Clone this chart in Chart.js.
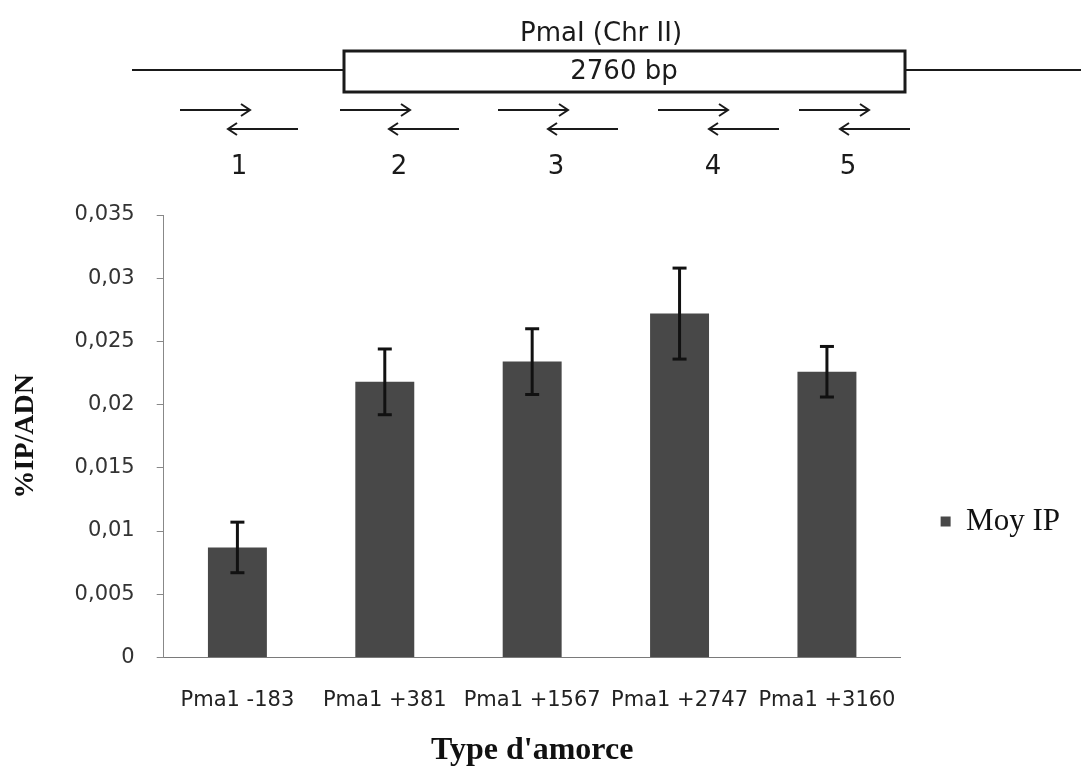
<!DOCTYPE html>
<html>
<head>
<meta charset="utf-8">
<title>Moy IP - Pma1</title>
<script src="https://cdn.jsdelivr.net/npm/chart.js@4.4.1/dist/chart.umd.min.js"></script>
<style>
  html, body { margin: 0; padding: 0; background: #fff; }
  canvas { display: block; }
</style>
</head>
<body>
<canvas id="ip-chart" width="1081" height="771"></canvas>
<script>
// primers along PmaI and the mean IP/input ratio measured with each
var amorces = ["Pma1 -183", "Pma1 +381", "Pma1 +1567", "Pma1 +2747", "Pma1 +3160"];
var moyIP = [0.0087, 0.0218, 0.0234, 0.0272, 0.0226];
var erreurIP = [0.0020, 0.0026, 0.0026, 0.0036, 0.0020];
var primerNumbers = ["1", "2", "3", "4", "5"];

// gene map drawn above the plot (pixel layout of the sketch)
var map = {
  lineY: 70,
  lineLeft: [132, 343],
  lineRight: [906, 1081],
  box: { x: 344, y: 51, w: 561, h: 41 },
  fwdStart: [180, 340, 498, 658, 799],
  revStart: [228, 389, 548, 709, 840],
  arrowLen: 70,
  fwdY: 110,
  revY: 129,
  numX: [239, 399, 556, 713, 848],
  numY: 167
};

function seg(ctx, x1, y1, x2, y2) {
  ctx.beginPath();
  ctx.moveTo(x1, y1);
  ctx.lineTo(x2, y2);
  ctx.stroke();
}

function arrow(ctx, x1, x2, y) {
  var dir = x2 > x1 ? 1 : -1;
  seg(ctx, x1, y, x2, y);
  ctx.beginPath();
  ctx.moveTo(x2 - dir * 9, y - 6);
  ctx.lineTo(x2, y);
  ctx.lineTo(x2 - dir * 9, y + 6);
  ctx.stroke();
}

var geneMap = {
  id: 'geneMap',
  afterDraw: function(chart) {
    var ctx = chart.ctx;
    ctx.save();
    ctx.strokeStyle = '#1a1a1a';
    ctx.fillStyle = '#1a1a1a';
    ctx.lineWidth = 2;
    seg(ctx, map.lineLeft[0], map.lineY, map.lineLeft[1], map.lineY);
    seg(ctx, map.lineRight[0], map.lineY, map.lineRight[1], map.lineY);
    ctx.lineWidth = 3;
    ctx.strokeRect(map.box.x, map.box.y, map.box.w, map.box.h);

    ctx.textAlign = 'center';
    ctx.textBaseline = 'middle';
    ctx.font = '26px "DejaVu Sans"';
    ctx.fillText('PmaI (Chr II)', 601, 34);
    ctx.fillText('2760 bp', 624, 72);

    ctx.lineWidth = 2;
    for (var i = 0; i < primerNumbers.length; i++) {
      arrow(ctx, map.fwdStart[i], map.fwdStart[i] + map.arrowLen, map.fwdY);
      arrow(ctx, map.revStart[i] + map.arrowLen, map.revStart[i], map.revY);
      ctx.fillText(primerNumbers[i], map.numX[i], map.numY);
    }
    ctx.restore();
  }
};

var errorBars = {
  id: 'errorBars',
  afterDatasetsDraw: function(chart) {
    var ctx = chart.ctx;
    var y = chart.scales.y;
    var bars = chart.getDatasetMeta(0).data;
    ctx.save();
    ctx.strokeStyle = '#111';
    ctx.lineWidth = 3;
    bars.forEach(function(bar, i) {
      var top = y.getPixelForValue(moyIP[i] + erreurIP[i]);
      var bottom = y.getPixelForValue(moyIP[i] - erreurIP[i]);
      seg(ctx, bar.x, top, bar.x, bottom);
      seg(ctx, bar.x - 7, top, bar.x + 7, top);
      seg(ctx, bar.x - 7, bottom, bar.x + 7, bottom);
    });
    ctx.restore();
  }
};

// push the legend down next to the lower half of the bars
var legendShift = {
  id: 'legendShift',
  afterLayout: function(chart) {
    chart.legend.top += 29;
    chart.legend.bottom += 29;
  }
};

new Chart(document.getElementById('ip-chart'), {
  type: 'bar',
  data: {
    labels: amorces,
    datasets: [{
      label: 'Moy IP',
      data: moyIP,
      backgroundColor: '#484848',
      borderWidth: 0,
      barPercentage: 0.4,
      categoryPercentage: 1.0
    }]
  },
  options: {
    responsive: false,
    animation: false,
    layout: { padding: { top: 215, left: 9, right: 11, bottom: 1 } },
    plugins: {
      legend: {
        position: 'right',
        align: 'center',
        labels: {
          boxWidth: 10,
          boxHeight: 10,
          padding: 40,
          color: '#111',
          font: { family: 'Liberation Serif', size: 31 }
        }
      },
      tooltip: { enabled: false }
    },
    scales: {
      x: {
        grid: { display: false },
        border: { color: '#7a7a7a' },
        ticks: {
          color: '#222',
          font: { family: 'DejaVu Sans', size: 21 },
          padding: 23,
          maxRotation: 0,
          autoSkip: false
        },
        title: {
          display: true,
          text: "Type d'amorce",
          color: '#111',
          font: { family: 'Liberation Serif', size: 32, weight: 'bold' },
          padding: { top: -5, bottom: 0 }
        }
      },
      y: {
        min: 0,
        max: 0.035,
        grid: { drawOnChartArea: false, tickLength: 7, color: '#888' },
        border: { color: '#888' },
        ticks: {
          stepSize: 0.005,
          color: '#333',
          padding: 22,
          font: { family: 'DejaVu Sans', size: 21 },
          callback: function(v) {
            return v.toLocaleString('fr-FR', { maximumFractionDigits: 3 });
          }
        },
        title: {
          display: true,
          text: '%IP/ADN',
          color: '#111',
          font: { family: 'Liberation Serif', size: 28, weight: 'bold' },
          padding: { top: 0, bottom: 10 }
        }
      }
    }
  },
  plugins: [errorBars, geneMap, legendShift]
});
</script>
</body>
</html>
